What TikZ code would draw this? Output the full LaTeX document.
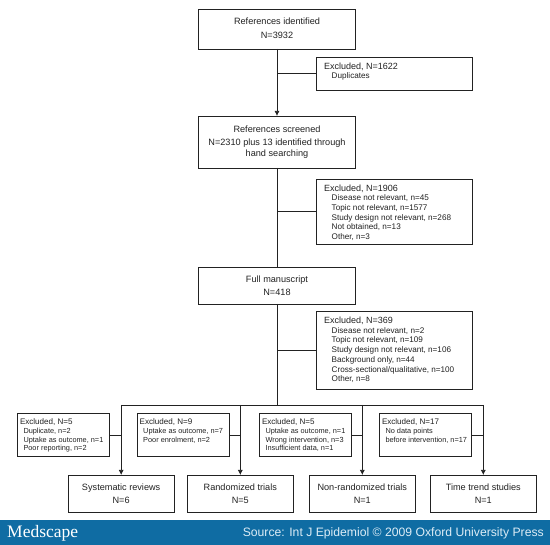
\documentclass[tikz,border=0pt]{standalone}
\usepackage{fontspec}
\setmainfont{Liberation Sans}
\usetikzlibrary{arrows.meta}
\definecolor{ink}{HTML}{222222}
\definecolor{banner}{HTML}{0F6CA3}
\definecolor{srcink}{HTML}{DCECF6}
\tikzset{
  x=1pt,y=-1pt,
  boxed/.style={draw=ink,line width=0.75pt,inner sep=0pt,outer sep=0pt,fill=white},
  mainbox/.style={boxed,align=center,text=ink,font=\fontsize{9.15}{13}\selectfont},
  link/.style={draw=ink,line width=0.75pt},
  arrowlink/.style={link,-{Latex[length=5pt,width=5pt]}}
}
% name, x1, y1, x2, y2, text
\newcommand\flowbox[6]{%
  \pgfmathsetmacro\bw{#4-#2}\pgfmathsetmacro\bh{#5-#3}%
  \node[mainbox,minimum width=\bw pt,minimum height=\bh pt] (#1) at ({(#2+#4)/2},{(#3+#5)/2}) {#6};}
% name, x1, y1, x2, y2, top pad, lines
\newcommand\exclbox[7]{%
  \pgfmathsetmacro\bw{#4-#2}\pgfmathsetmacro\bh{#5-#3}%
  \node[boxed,text=ink] (#1) at ({(#2+#4)/2},{(#3+#5)/2}) {\parbox[c][\bh pt][t]{\bw pt}{\hrule width \hsize height 0pt\vspace*{#6pt}#7}};}
\newcommand\bighead[1]{\baselineskip=9.7pt\hbox{\hspace{7.5pt}\fontsize{9}{9.7}\selectfont #1}}
\newcommand\bigitem[1]{\hbox{\hspace{15.2pt}\fontsize{8.15}{9.7}\selectfont #1}}
\newcommand\smallhead[1]{\baselineskip=8.6pt\hbox{\hspace{2.7pt}\fontsize{8.05}{8.6}\selectfont #1}}
\newcommand\smallitem[1]{\hbox{\hspace{6.2pt}\fontsize{7.35}{8.6}\selectfont #1}}
\begin{document}
\begin{tikzpicture}
\useasboundingbox (0,0) rectangle (550,545);
\fill[white] (0,0) rectangle (550,545);
\flowbox{refid}{198.5}{9}{355.5}{49}{\raisebox{1.2pt}{References identified}\\[1.5pt]\raisebox{1.2pt}{N=3932}}
\exclbox{exa}{316.5}{57}{472.5}{90.5}{5.5}{\bighead{Excluded, N=1622}\bigitem{Duplicates}}
\flowbox{refscr}{198.5}{116}{355.5}{168}{References screened\\N=2310 plus 13 identified through\\[-2pt]hand searching}
\exclbox{exb}{316.5}{179}{472.5}{244}{5.5}{\bighead{Excluded, N=1906}\bigitem{Disease not relevant, n=45}\bigitem{Topic not relevant, n=1577}\bigitem{Study design not relevant, n=268}\bigitem{Not obtained, n=13}\bigitem{Other, n=3}}
\flowbox{full}{198.5}{267.5}{355.5}{304}{Full manuscript\\N=418}
\exclbox{exc}{316.5}{311.5}{472.5}{389}{5.5}{\bighead{Excluded, N=369}\bigitem{Disease not relevant, n=2}\bigitem{Topic not relevant, n=109}\bigitem{Study design not relevant, n=106}\bigitem{Background only, n=44}\bigitem{Cross-sectional/qualitative, n=100}\bigitem{Other, n=8}}
\flowbox{sys}{68.3}{475}{174}{512}{Systematic reviews\\N=6}
\flowbox{rand}{187.3}{475}{293.3}{512}{Randomized trials\\N=5}
\flowbox{nonrand}{309.3}{475}{415.3}{512}{Non-randomized trials\\N=1}
\flowbox{trend}{430.3}{475}{536.3}{512}{Time trend studies\\N=1}
\exclbox{exd}{17.3}{413.3}{109.7}{456.7}{5.8}{\smallhead{Excluded, N=5}\smallitem{Duplicate, n=2}\smallitem{Uptake as outcome, n=1}\smallitem{Poor reporting, n=2}}
\exclbox{exe}{137}{413.3}{229.3}{456.7}{5.8}{\smallhead{Excluded, N=9}\smallitem{Uptake as outcome, n=7}\smallitem{Poor enrolment, n=2}}
\exclbox{exf}{259.3}{413.3}{351.3}{456.7}{5.8}{\smallhead{Excluded, N=5}\smallitem{Uptake as outcome, n=1}\smallitem{Wrong intervention, n=3}\smallitem{Insufficient data, n=1}}
\exclbox{exg}{379.3}{413.3}{471.7}{456.7}{5.8}{\smallhead{Excluded, N=17}\smallitem{No data points}\smallitem{before intervention, n=17}}
% connectors
\draw[arrowlink] (refid) -- (refscr);
\draw[link] (exa.west) -- (exa.west -| refid.south);
\draw[link] (refscr) -- (full);
\draw[link] (exb.west) -- (exb.west -| refscr.south);
\coordinate (busy) at (0,405);
\coordinate (bus) at (full.south |- busy);
\draw[link] (full) -- (bus);
\draw[link] (exc.west) -- (exc.west -| full.south);
\draw[link] (sys.north |- busy) -- (trend.north |- busy);
\draw[arrowlink] (sys.north |- busy) -- (sys.north);
\draw[arrowlink] (rand.north |- busy) -- (rand.north);
\draw[arrowlink] (nonrand.north |- busy) -- (nonrand.north);
\draw[arrowlink] (trend.north |- busy) -- (trend.north);
\draw[link] (exd.east) -- (exd.east -| sys.north);
\draw[link] (exe.east) -- (exe.east -| rand.north);
\draw[link] (exf.east) -- (exf.east -| nonrand.north);
\draw[link] (exg.east) -- (exg.east -| trend.north);
% banner
\node[fill=banner,inner sep=0pt,minimum width=550pt,minimum height=25pt] (band) at (275,532.5) {};
\node[anchor=base west,inner sep=0pt,text=white,font=\fontsize{17.5}{18}\fontspec{Liberation Serif}] (logo) at (7,538) {Medscape};
\node[anchor=base east,inner sep=0pt,text=srcink,font=\fontsize{12.2}{13}\selectfont] (source) at (544,537) {Source: Int J Epidemiol © 2009 Oxford University Press};
\end{tikzpicture}
\end{document}
